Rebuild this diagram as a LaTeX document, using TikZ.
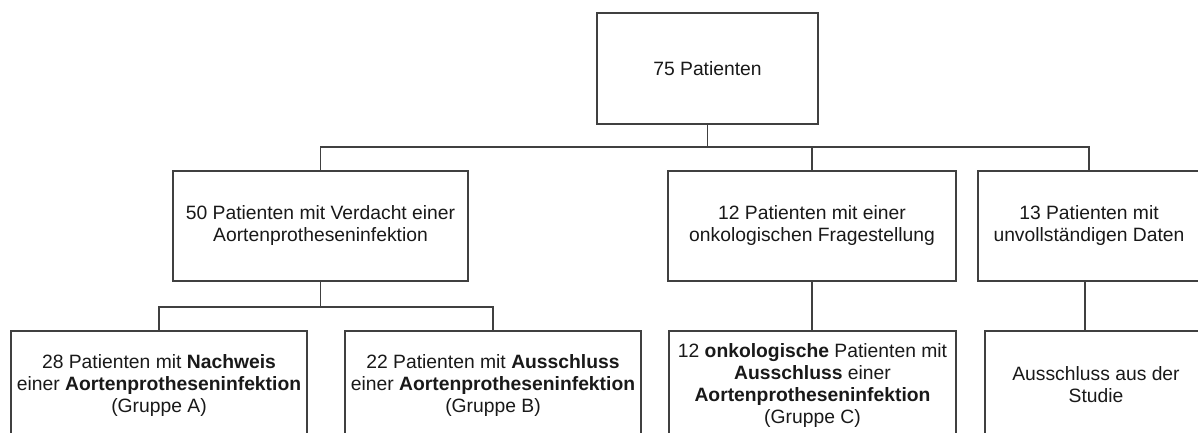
\documentclass[tikz,border=0pt]{standalone}
\usepackage{fontspec}
\setmainfont{Liberation Sans}
\begin{document}
\begin{tikzpicture}[x=1pt,y=-1pt,
  box/.style={draw=black!75, line width=1.2pt, rectangle, inner sep=0pt, align=center,
    font=\fontsize{19.3}{22}\selectfont, text=black!90},
  link/.style={draw=black!75, line width=1.2pt}]
\useasboundingbox (0,0) rectangle (1198,432);
\clip (0,0) rectangle (1198,432);
\fill[white] (0,0) rectangle (1198,432);
% first level
\node[box, minimum width=221pt, minimum height=111pt] (a) at (707.5,68.5) {75 Patienten};
% second level
\node[box, minimum width=295pt, minimum height=110pt] (b) at (320.5,226) {50 Patienten mit Verdacht einer\\Aortenprotheseninfektion};
\node[box, minimum width=288pt, minimum height=110pt] (c) at (812,226) {12 Patienten mit einer\\onkologischen Fragestellung};
\node[box, minimum width=222pt, minimum height=110pt] (d) at (1089,226) {13 Patienten mit\\unvollständigen Daten};
% third level
\node[box, minimum width=296pt, minimum height=108pt] (ga) at (159,385) {28 Patienten mit \textbf{Nachweis}\\einer \textbf{Aortenprotheseninfektion}\\(Gruppe A)};
\node[box, minimum width=296pt, minimum height=108pt] (gb) at (493,385) {22 Patienten mit \textbf{Ausschluss}\\einer \textbf{Aortenprotheseninfektion}\\(Gruppe B)};
\node[box, minimum width=287pt, minimum height=108pt] (gc) at (812.5,385) {12 \textbf{onkologische} Patienten mit\\\textbf{Ausschluss} einer\\\textbf{Aortenprotheseninfektion}\\(Gruppe C)};
\node[box, minimum width=222pt, minimum height=108pt] (gd) at (1096,385) {Ausschluss aus der\\Studie};
% connectors
\coordinate (j1) at (707.5,147);
\coordinate (j2) at (320.5,307);
\draw[link] (a.south) -- (j1);
\draw[link] (j1) -| (b.north);
\draw[link] (j1) -| (c.north);
\draw[link] (j1) -| (d.north);
\draw[link] (b.south) -- (j2);
\draw[link] (j2) -| (ga.north);
\draw[link] (j2) -| (gb.north);
\draw[link] (c.south) -- (c.south |- gc.north);
\draw[link] ([xshift=-4pt]d.south) -- ([xshift=-4pt]d.south |- gd.north);
\end{tikzpicture}
\end{document}
